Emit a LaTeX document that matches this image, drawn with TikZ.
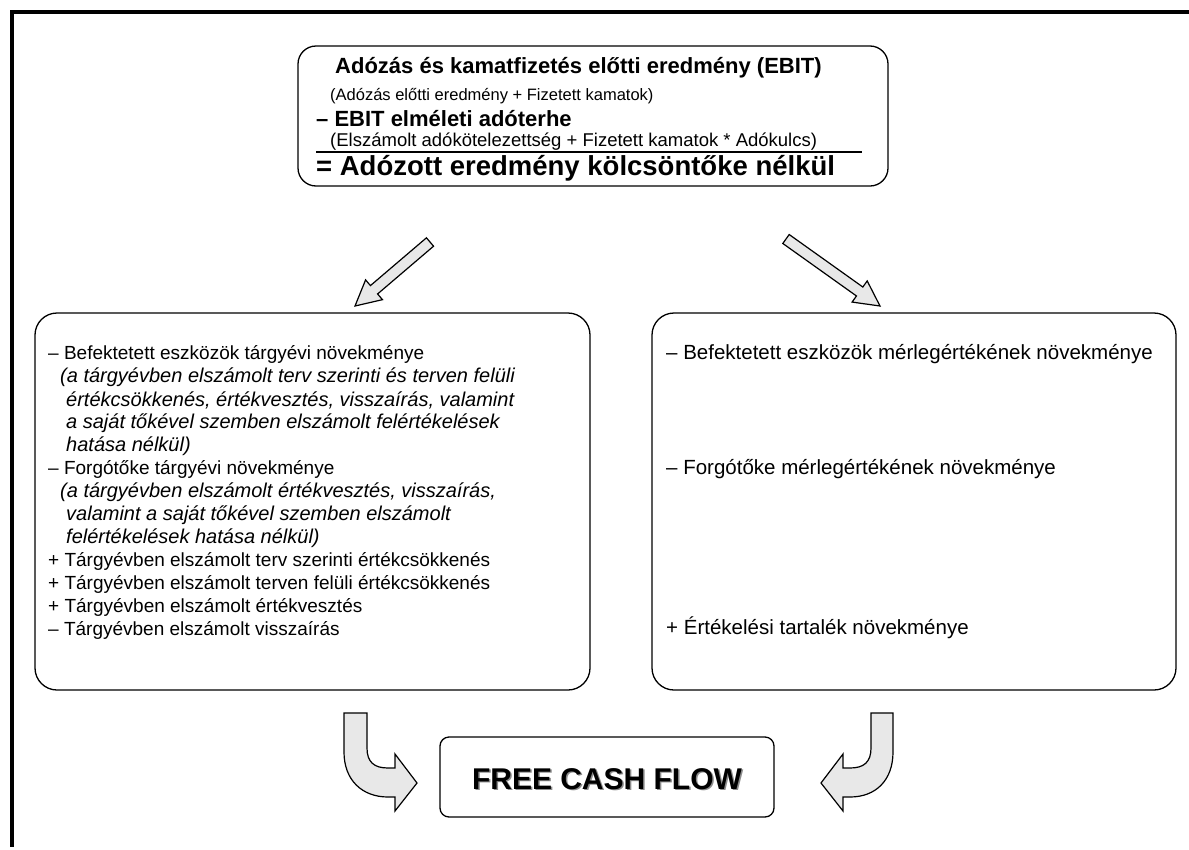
\documentclass[tikz,border=0pt]{standalone}
\usepackage{fontspec}
\setmainfont{Liberation Sans}
\usetikzlibrary{calc}

\tikzset{
  box/.style={draw, rounded corners=#1, line width=1.3pt},
  box/.default=22pt,
  txt/.style={anchor=west, inner sep=0pt, font=\fontsize{19}{23}\selectfont},
  itxt/.style={txt, font=\fontsize{20}{23}\selectfont\itshape},
  rtxt/.style={txt, font=\fontsize{20.5}{23}\selectfont},
  blockarrow/.style={draw, line width=1.2pt, fill=black!9, line join=miter}
}

\begin{document}
\begin{tikzpicture}[x=1pt,y=-1pt]
\useasboundingbox (0,0) rectangle (1189,849) ;
% frame
\draw[line width=4pt] (1189,12) -- (12,12) -- (12,847) ;

% top box
\node[box=18pt, minimum width=590pt, minimum height=140pt] (ebit) at (593,116) {} ;
\node[anchor=west, inner sep=0pt, font=\fontsize{22}{24}\selectfont\bfseries] (l1) at (335,68) {Adózás és kamatfizetés előtti eredmény (EBIT)} ;
\node[anchor=west, inner sep=0pt, font=\fontsize{16.5}{18}\selectfont] (l2) at (330,96) {(Adózás előtti eredmény + Fizetett kamatok)} ;
\node[anchor=west, inner sep=0pt, font=\fontsize{22}{24}\selectfont\bfseries] (l3) at (316,119) {– EBIT elméleti adóterhe} ;
\node[anchor=west, inner sep=0pt, font=\fontsize{18.5}{20}\selectfont] (l4) at (330,142) {(Elszámolt adókötelezettség + Fizetett kamatok * Adókulcs)} ;
\draw[line width=1.3pt] (316,152) -- (862,152) ;
\node[anchor=west, inner sep=0pt, font=\fontsize{27.5}{30}\selectfont\bfseries] (l5) at (316,168) {= Adózott eredmény kölcsöntőke nélkül} ;

% diagonal arrows
\coordinate (lt) at (430,242) ;
\coordinate (lh) at (355,306) ;
\coordinate (rt) at (786,239) ;
\coordinate (rh) at (880,306) ;
\foreach \s/\e in {lt/lh, rt/rh} {
  \coordinate (n) at ($(\e)!25pt!(\s)$) ;
  \draw[blockarrow] ($(\s)!5.5pt!90:(\e)$) -- ($(n)!5.5pt!90:(\e)$) -- ($(n)!13pt!90:(\e)$) -- (\e)
    -- ($(n)!13pt!-90:(\e)$) -- ($(n)!5.5pt!-90:(\e)$) -- ($(\s)!5.5pt!-90:(\e)$) -- cycle ;
}

% left box
\node[box, minimum width=555pt, minimum height=377pt] (bal) at (312.5,501.5) {} ;
\node[txt] (b1) at (48,354) {– Befektetett eszközök tárgyévi növekménye} ;
\node[itxt] (b2) at (60,377) {(a tárgyévben elszámolt terv szerinti és terven felüli} ;
\node[itxt] (b3) at (66,400) {értékcsökkenés, értékvesztés, visszaírás, valamint} ;
\node[itxt] (b4) at (66,423) {a saját tőkével szemben elszámolt felértékelések} ;
\node[itxt] (b5) at (66,446) {hatása nélkül)} ;
\node[txt] (b6) at (48,469) {– Forgótőke tárgyévi növekménye} ;
\node[itxt] (b7) at (60,492) {(a tárgyévben elszámolt értékvesztés, visszaírás,} ;
\node[itxt] (b8) at (66,515) {valamint a saját tőkével szemben elszámolt} ;
\node[itxt] (b9) at (66,538) {felértékelések hatása nélkül)} ;
\node[txt] (b10) at (48,561) {+ Tárgyévben elszámolt terv szerinti értékcsökkenés} ;
\node[txt] (b11) at (48,584) {+ Tárgyévben elszámolt terven felüli értékcsökkenés} ;
\node[txt] (b12) at (48,607) {+ Tárgyévben elszámolt értékvesztés} ;
\node[txt] (b13) at (48,630) {– Tárgyévben elszámolt visszaírás} ;

% right box
\node[box, minimum width=524pt, minimum height=377pt] (jobb) at (914,501.5) {} ;
\node[rtxt] (j1) at (666,354) {– Befektetett eszközök mérlegértékének növekménye} ;
\node[rtxt] (j2) at (666,469) {– Forgótőke mérlegértékének növekménye} ;
\node[rtxt] (j3) at (666,628) {+ Értékelési tartalék növekménye} ;

% free cash flow
\node[box=9pt, minimum width=334pt, minimum height=80pt] (fcf) at (607,777) {} ;
\node[font=\fontsize{30}{32}\selectfont\bfseries, text=black!45] at ($(fcf.center)+(1.5,3)$) {FREE CASH FLOW} ;
\node[font=\fontsize{30}{32}\selectfont\bfseries] (fcftxt) at ($(fcf.center)+(0,2)$) {FREE CASH FLOW} ;

% curved arrows
\draw[blockarrow] (344,713) -- (367,713) -- (367,748) .. controls (367,762) and (374,768) .. (388,768)
  -- (395,768) -- (395,754) -- (417,783) -- (395,811) -- (395,797) -- (388,797)
  .. controls (362,797) and (344,780) .. (344,752) -- cycle ;
\draw[blockarrow] (893,713) -- (871,713) -- (871,748) .. controls (871,762) and (864,768) .. (850,768)
  -- (843,768) -- (843,754) -- (821,783) -- (843,811) -- (843,797) -- (850,797)
  .. controls (876,797) and (893,780) .. (893,752) -- cycle ;
\end{tikzpicture}
\end{document}
